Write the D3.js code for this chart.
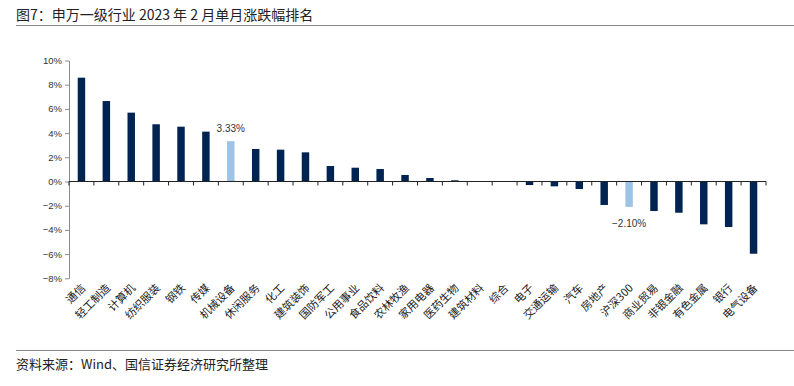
<!DOCTYPE html>
<html><head><meta charset="utf-8">
<script src="https://cdn.jsdelivr.net/npm/d3@7/dist/d3.min.js"></script>
<style>
html,body{margin:0;padding:0;background:#fff;}
svg{display:block;}
</style></head>
<body>
<svg id="chart" width="794" height="386"></svg>
<script>
const categories = ["通信","轻工制造","计算机","纺织服装","钢铁","传媒","机械设备","休闲服务","化工","建筑装饰","国防军工","公用事业","食品饮料","农林牧渔","家用电器","医药生物","建筑材料","综合","电子","交通运输","汽车","房地产","沪深300","商业贸易","非银金融","有色金属","银行","电气设备"];
const values = [8.58,6.65,5.69,4.73,4.53,4.12,3.33,2.69,2.63,2.41,1.28,1.14,1.03,0.54,0.29,0.10,0.02,-0.02,-0.29,-0.40,-0.62,-1.94,-2.10,-2.44,-2.58,-3.54,-3.76,-5.97];
const highlighted = ["机械设备","沪深300"];
const yTicks = [-8,-6,-4,-2,0,2,4,6,8,10];
const titleText = "图7：申万一级行业 2023 年 2 月单月涨跌幅排名";
const sourceText = "资料来源：Wind、国信证券经济研究所整理";

const svg = d3.select("#chart");
const W = 794, H = 386;
const plotLeft = 69, plotRight = 766, plotTop = 60.5, plotBottom = 278.3;
const cjk = "'Noto Sans CJK SC','Noto Sans',sans-serif";
const latin = "'Liberation Sans',Arial,sans-serif";

// title & rules
svg.append("text").attr("x",16).attr("y",20).attr("font-family",cjk).attr("font-size",14)
  .attr("fill","#222").text(titleText);
svg.append("line").attr("x1",16).attr("x2",W).attr("y1",25.5).attr("y2",25.5)
  .attr("stroke","#8a8a8a").attr("stroke-width",1);
svg.append("line").attr("x1",16).attr("x2",W).attr("y1",350.5).attr("y2",350.5)
  .attr("stroke","#8a8a8a").attr("stroke-width",1);
svg.append("text").attr("x",16).attr("y",368.5).attr("font-family",cjk).attr("font-size",13)
  .attr("fill","#222").text(sourceText);

const x = d3.scaleBand().domain(categories).range([plotLeft,plotRight]).paddingInner(0).paddingOuter(0);
const y = d3.scaleLinear().domain([-8,10]).range([plotBottom,plotTop]);

// y axis
const yAxis = d3.axisLeft(y).tickValues(yTicks).tickSize(4).tickSizeOuter(0)
  .tickFormat(d => (d<0?"\u2212"+Math.abs(d):d) + "%");
const gy = svg.append("g").attr("transform",`translate(${plotLeft},0)`).call(yAxis);
gy.select(".domain").attr("stroke","#8c8c8c");
gy.selectAll(".tick line").attr("stroke","#8c8c8c");
gy.selectAll(".tick text").attr("font-family",latin).attr("font-size",9.5).attr("fill","#333").attr("x",-7);

// bars
const bw = x.bandwidth()*0.3;
svg.append("g").selectAll("rect").data(categories).join("rect")
  .attr("x", d => x(d) + x.bandwidth()/2 - bw/2)
  .attr("width", bw)
  .attr("y", (d,i) => y(Math.max(0,values[i])))
  .attr("height", (d,i) => Math.abs(y(values[i]) - y(0)))
  .attr("fill", d => highlighted.includes(d) ? "#9dc3e6" : "#002452");

// x axis (ticks at band boundaries)
const gx = svg.append("g").attr("transform",`translate(0,${y(0)})`);
gx.append("line").attr("x1",plotLeft).attr("x2",plotRight).attr("y1",0).attr("y2",0).attr("stroke","#222");
const bounds = categories.map(d => x(d)).concat([plotRight]);
gx.selectAll("line.tk").data(bounds).join("line").attr("class","tk")
  .attr("x1",d=>d).attr("x2",d=>d).attr("y1",0).attr("y2",4).attr("stroke","#222");

// category labels
svg.append("g").selectAll("text").data(categories).join("text")
  .attr("transform", d => `translate(${x(d)+x.bandwidth()/2+2},${286}) rotate(-45)`)
  .attr("text-anchor","end").attr("dy","0.35em")
  .attr("font-family",cjk).attr("font-size",11).attr("fill","#1a1a1a")
  .text(d => d);

// value labels for highlighted
highlighted.forEach(h => {
  const i = categories.indexOf(h), v = values[i];
  svg.append("text")
    .attr("x", x(h)+x.bandwidth()/2)
    .attr("y", v>=0 ? y(v)-9 : y(v)+20)
    .attr("text-anchor","middle").attr("font-family",latin).attr("font-size",10).attr("fill","#333")
    .text((v<0?"\u2212":"") + Math.abs(v).toFixed(2) + "%");
});
</script>
</body></html>
